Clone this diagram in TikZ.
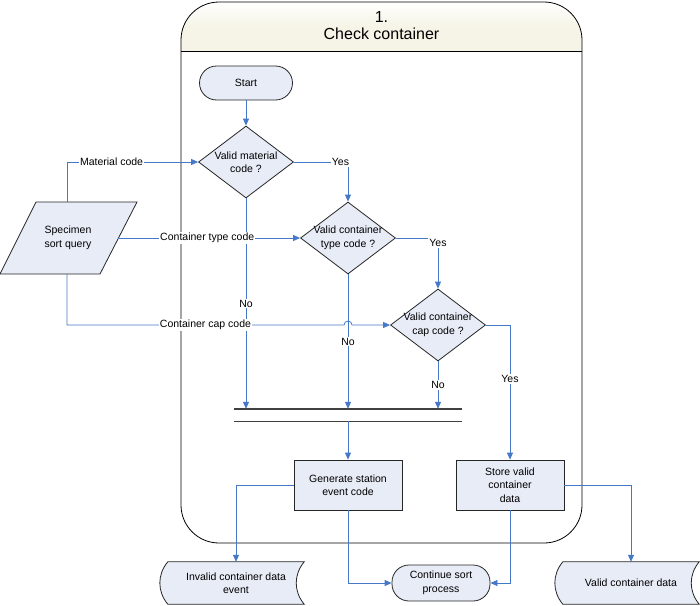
\documentclass[tikz,border=0pt]{standalone}
\usepackage{fontspec}
\setmainfont{Liberation Sans}
\usepackage{tikz}
\usetikzlibrary{shapes.geometric, arrows.meta, backgrounds}
\definecolor{shapefill}{RGB}{232,236,247}
\definecolor{flowblue}{RGB}{70,120,200}
\definecolor{headcream}{RGB}{245,244,230}

\begin{document}
\begin{tikzpicture}[x=1pt, y=-1pt,
    txt/.style={font=\fontsize{10.5}{13.5}\selectfont, align=center},
    shp/.style={draw=black!85, fill=shapefill, line width=0.8pt},
    terminal/.style={shp, txt, rectangle, rounded corners=17pt, minimum width=93pt, minimum height=34pt},
    process/.style={shp, txt, rectangle, minimum width=108pt, minimum height=50pt},
    decision/.style={shp, diamond, minimum width=95pt, minimum height=72pt, inner sep=0pt},
    datastore/.style={txt, minimum width=136pt, minimum height=42pt},
    flow/.style={draw=flowblue, line width=0.8pt, -{Triangle[length=7pt,width=6pt]}},
    lbl/.style={txt, fill=white, inner sep=1pt}]
    \useasboundingbox (0,0) rectangle (700,605);

    % Draw the swimlane with its header
    \begin{scope}
        \clip[rounded corners=38pt] (181,2) rectangle (582,543);
        \shade[top color=white, bottom color=headcream, middle color=headcream] (181,2) rectangle (582,51);
    \end{scope}
    \draw[rounded corners=38pt, line width=0.8pt] (181,2) rectangle (582,543);
    \draw[line width=0.8pt] (181,51) -- (582,51);
    \node[font=\fontsize{16}{17}\selectfont, align=center] (title) at (381.5,26) {1.\\Check container};

    % Shapes inside the lane
    \node[terminal] (start) at (246,83) {Start};
    \node[decision, label={[txt]center:Valid material\\code ?}] (matd) at (246,162) {};
    \node[decision, label={[txt]center:Valid container\\type code ?}] (typed) at (348,238) {};
    \node[decision, label={[txt]center:Valid container\\cap code ?}] (capd) at (438,325) {};
    \node[minimum width=228pt, minimum height=12pt, inner sep=0pt] (bar) at (348,415) {};
    \draw[draw=black!75, line width=1.4pt] (bar.north west) -- (bar.north east) (bar.south west) -- (bar.south east);
    \node[process] (gen) at (348,485) {Generate station\\event code};
    \node[process] (store) at (510,485) {Store valid\\container\\data};

    % Input and outputs outside the lane
    \node[txt] (query) at (68,238) {Specimen\\sort query};
    \coordinate (qtop) at (67,202);
    \coordinate (qright) at (118,238);
    \coordinate (qbot) at (67,274);
    \node[terminal, minimum width=98pt, minimum height=36pt] (cont) at (441,583) {Continue sort\\process};
    \node[datastore] (invalid) at (236,583) {Invalid container data\\event};
    \node[datastore] (valid) at (631,583) {Valid container data};
    \begin{scope}[on background layer]
        \draw[shp] (36,202) -- (137,202) -- (100,274) -- (0,274) -- cycle;
        \foreach \n in {invalid, valid}
            \draw[shp] (\n.south west) to[bend left=40] (\n.north west) -- (\n.north east)
                to[bend right=40] (\n.south east) -- cycle;
    \end{scope}

    % Connect the shapes
    \draw[flow] (start) -- (matd);
    \foreach \d in {matd, typed, capd}
        \draw[flow] (\d.south) -- node[lbl] {No} (\d.south |- bar.north);
    \draw[flow] (matd.east) -| node[lbl, pos=0.43] {Yes} (typed.north);
    \draw[flow] (typed.east) -| node[lbl, pos=0.55] {Yes} (capd.north);
    \draw[flow] (capd.east) -| node[lbl, pos=0.7] {Yes} (store.north);
    \draw[flow] (bar.south) -- (gen);
    \draw[flow] (qtop) |- node[lbl, pos=0.67] {Material code} (matd.west);
    \draw[flow] (qright) -- node[lbl, pos=0.49] {Container type code} (typed.west);
    \draw[flow] (qbot) |- node[lbl, pos=0.75] {Container cap code} (344,325)
        arc[start angle=180, end angle=0, radius=4pt] -- (capd.west);
    \draw[flow] (gen.west) -| (invalid.north);
    \draw[flow] (gen.south) |- (cont.west);
    \draw[flow] (store.south) |- (cont.east);
    \draw[flow] (store.east) -| (valid.north);
\end{tikzpicture}
\end{document}
